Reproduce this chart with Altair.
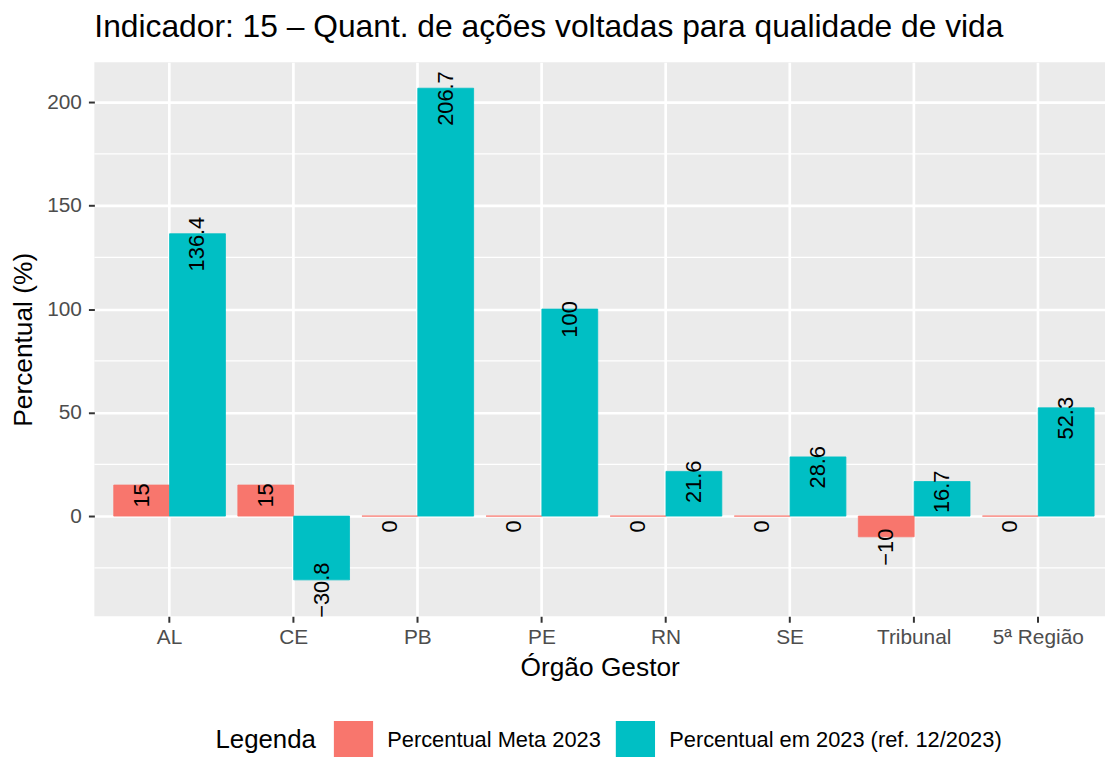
import altair as alt
import pandas as pd

orgaos = ["AL", "CE", "PB", "PE", "RN", "SE", "Tribunal", "5ª Região"]
meta_2023 = [15, 15, 0, 0, 0, 0, -10, 0]
real_2023 = [136.4, -30.8, 206.7, 100, 21.6, 28.6, 16.7, 52.3]
series = ["Percentual Meta 2023", "Percentual em 2023 (ref. 12/2023)"]
colors = ["#F8766D", "#00BFC4"]
y_breaks = [0, 50, 100, 150, 200]
y_minor = [-25, 25, 75, 125, 175]
y_domain = [-48.4, 219.2]

rows = []
for i, o in enumerate(orgaos):
    rows.append({"orgao": o, "serie": series[0], "valor": meta_2023[i]})
    rows.append({"orgao": o, "serie": series[1], "valor": real_2023[i]})
df = pd.DataFrame(rows)
df["label"] = df["valor"].map(lambda v: f"{v:g}".replace("-", "\u2212"))
minor_df = pd.DataFrame({"v": y_minor})

FONT = "Liberation Sans"

yscale = alt.Scale(domain=y_domain, nice=False, zero=False)
xscale = alt.Scale(domain=orgaos, paddingInner=0.1, paddingOuter=0.122, align=0.64)
xoff_scale = alt.Scale(domain=series, paddingInner=0, paddingOuter=0)
cscale = alt.Scale(domain=series, range=colors)

x_enc = alt.X("orgao:N", scale=xscale, sort=orgaos,
              axis=alt.Axis(title="Órgão Gestor", labelAngle=0, grid=True,
                            labelPadding=4, titlePadding=8))
xoff_enc = alt.XOffset("serie:N", scale=xoff_scale, sort=series)

minor = alt.Chart(minor_df).mark_rule(color="white", strokeWidth=1.3).encode(
    y=alt.Y("v:Q", scale=yscale)
)

bars = alt.Chart(df).mark_bar(strokeWidth=0.8).encode(
    x=x_enc,
    xOffset=xoff_enc,
    y=alt.Y("valor:Q", scale=yscale,
            axis=alt.Axis(title="Percentual (%)", values=y_breaks, grid=True,
                          labelPadding=7, titlePadding=9)),
    y2=alt.datum(0),
    color=alt.Color("serie:N", scale=cscale, sort=series,
                    legend=alt.Legend(title="Legenda", orient="none",
                                      legendX=122, legendY=663,
                                      direction="horizontal", titleOrient="left",
                                      titleAnchor="middle", titleBaseline="middle",
                                      symbolType="square", symbolSize=1560,
                                      symbolStrokeWidth=0, labelFontSize=22,
                                      labelLimit=0,
                                      titleFontSize=26, labelOffset=14,
                                      columnPadding=14, titlePadding=17,
                                      padding=0, titleFontWeight="normal",
                                      labelColor="black", titleColor="black",
                                      labelFont=FONT, titleFont=FONT)),
    stroke=alt.Stroke("serie:N", scale=cscale, legend=None),
)

labels = alt.Chart(df).transform_calculate(
    label_y="datum.valor - 5"
).mark_text(angle=270, align="center", baseline="middle", fontSize=22,
            font=FONT, color="black").encode(
    x=x_enc,
    xOffset=xoff_enc,
    y=alt.Y("label_y:Q", scale=yscale),
    text="label:N",
)

chart = alt.layer(minor, bars, labels).properties(
    width=1018,
    height=558,
    autosize=alt.AutoSizeParams(type="none"),
    padding={"left": 87, "top": 52, "right": 0, "bottom": 139},
    title=alt.TitleParams(
        "Indicador: 15 \u2013 Quant. de ações voltadas para qualidade de vida",
        anchor="start", frame="group", fontSize=32, font=FONT,
        fontWeight="normal", color="black", offset=20, dy=26,
        baseline="alphabetic",
    ),
).configure_view(fill="#EBEBEB", strokeWidth=0).configure_axis(
    domain=False, tickColor="#333333", tickWidth=2, tickSize=6,
    labelColor="#4D4D4D", labelFontSize=21, labelFont=FONT,
    titleFontSize=26.5, titleFont=FONT, titleColor="black", titleFontWeight="normal",
    gridColor="white", gridWidth=2.7,
)

chart.save("out.html", embed_options={"renderer": "svg", "actions": False})
